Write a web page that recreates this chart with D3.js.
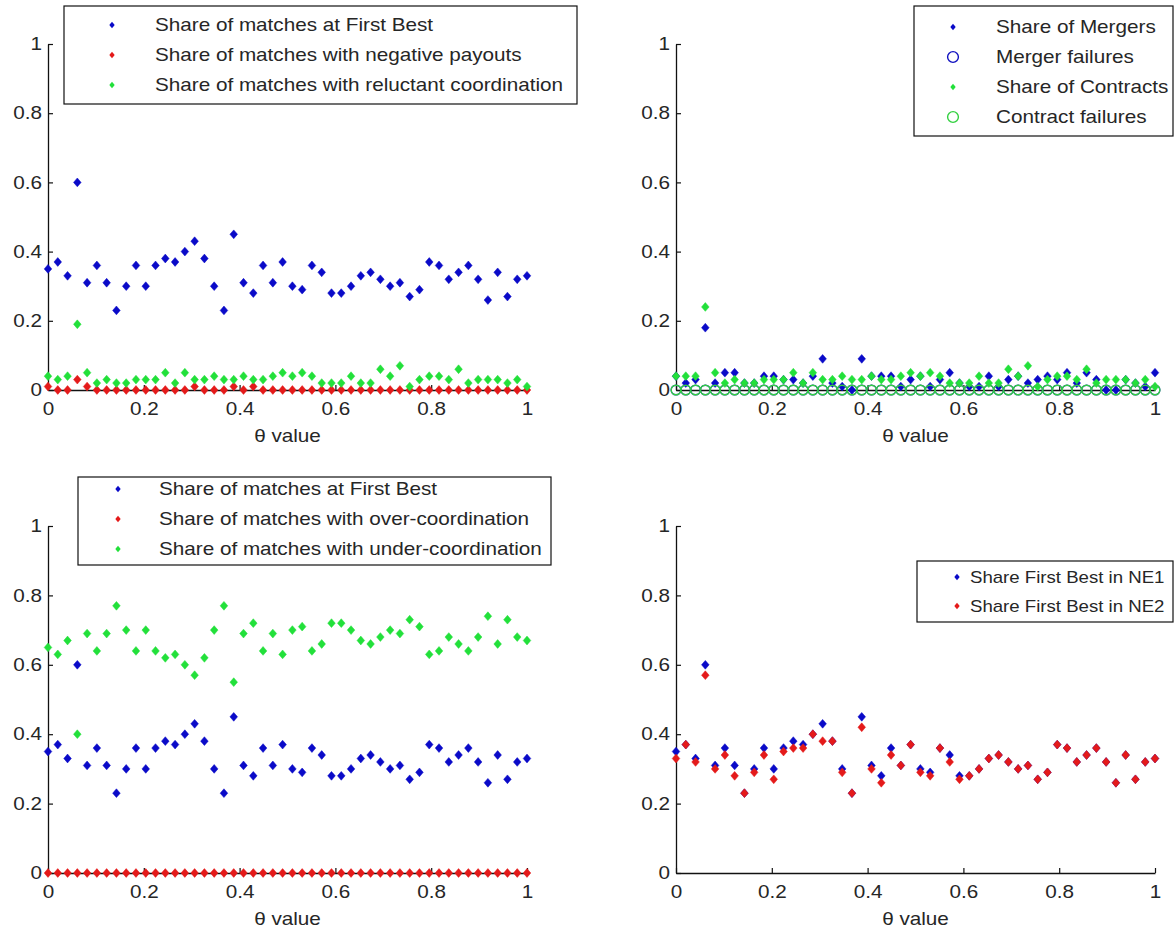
<!DOCTYPE html>
<html><head><meta charset="utf-8">
<script src="https://cdn.jsdelivr.net/npm/d3@7"></script>
<style>
body{margin:0;background:#fff}
text{font-family:"Liberation Sans",Arial,Helvetica,sans-serif;fill:#262626}
</style>
</head><body>
<svg id="chart" width="1175" height="934"></svg>
<script>
// ---------- data ----------
const theta = d3.range(50).map(i => i / 49);            // θ grid, 50 steps from 0 to 1
const xTicks = [0, 0.2, 0.4, 0.6, 0.8, 1];
const xTickLabels = ["0", "0.2", "0.4", "0.6", "0.8", "1"];
const yTicks = [0, 0.2, 0.4, 0.6, 0.8, 1];
const yTickLabels = ["0", "0.2", "0.4", "0.6", "0.8", "1"];
const xLabel = "θ value";

const firstBest = [0.35,0.37,0.33,0.60,0.31,0.36,0.31,0.23,0.30,0.36,0.30,0.36,0.38,0.37,0.40,0.43,0.38,0.30,0.23,0.45,0.31,0.28,0.36,0.31,0.37,
                   0.30,0.29,0.36,0.34,0.28,0.28,0.30,0.33,0.34,0.32,0.30,0.31,0.27,0.29,0.37,0.36,0.32,0.34,0.36,0.32,0.26,0.34,0.27,0.32,0.33];
const negativePayouts = [0.01,0,0,0.03,0.01,0,0,0,0,0,0,0,0,0,0,0.01,0,0,0,0.01,0,0.01,0,0,0,
                         0,0,0,0,0,0,0,0,0,0,0,0,0,0,0,0,0,0,0,0,0,0,0,0,0];
const reluctantCoord = [0.04,0.03,0.04,0.19,0.05,0.02,0.03,0.02,0.02,0.03,0.03,0.03,0.05,0.02,0.05,0.03,0.03,0.04,0.03,0.03,0.04,0.03,0.03,0.04,0.05,
                        0.04,0.05,0.04,0.02,0.02,0.02,0.04,0.02,0.02,0.06,0.04,0.07,0.01,0.03,0.04,0.04,0.03,0.06,0.02,0.03,0.03,0.03,0.02,0.03,0.01];

const mergers = [0.04,0.02,0.03,0.18,0.02,0.05,0.05,0.02,0.02,0.04,0.04,0.03,0.03,0.02,0.04,0.09,0.02,0.01,0,0.09,0.04,0.04,0.04,0.01,0.03,
                 0.04,0.01,0.03,0.05,0.02,0.01,0.01,0.04,0.01,0.03,0.04,0.02,0.03,0.04,0.03,0.05,0.02,0.05,0.03,0,0,0.03,0.02,0.01,0.05];
const mergerFailures = [0,0,0,0,0,0,0,0,0,0,0,0,0,0,0,0,0,0,0,0,0,0,0,0,0,
                        0,0,0,0,0,0,0,0,0,0,0,0,0,0,0,0,0,0,0,0,0,0,0,0,0];
const contracts = [0.04,0.04,0.04,0.24,0.05,0.02,0.03,0.02,0.02,0.03,0.03,0.03,0.05,0.02,0.05,0.03,0.03,0.04,0.03,0.03,0.04,0.03,0.03,0.04,0.05,
                   0.04,0.05,0.04,0.02,0.02,0.02,0.04,0.02,0.02,0.06,0.04,0.07,0.01,0.03,0.04,0.04,0.03,0.06,0.02,0.03,0.03,0.03,0.02,0.03,0.01];
const contractFailures = [0,0,0,0,0,0,0,0,0,0,0,0,0,0,0,0,0,0,0,0,0,0,0,0,0,
                          0,0,0,0,0,0,0,0,0,0,0,0,0,0,0,0,0,0,0,0,0,0,0,0,0];

const overCoord = [0,0,0,0,0,0,0,0,0,0,0,0,0,0,0,0,0,0,0,0,0,0,0,0,0,
                   0,0,0,0,0,0,0,0,0,0,0,0,0,0,0,0,0,0,0,0,0,0,0,0,0];
const underCoord = [0.65,0.63,0.67,0.40,0.69,0.64,0.69,0.77,0.70,0.64,0.70,0.64,0.62,0.63,0.60,0.57,0.62,0.70,0.77,0.55,0.69,0.72,0.64,0.69,0.63,
                    0.70,0.71,0.64,0.66,0.72,0.72,0.70,0.67,0.66,0.68,0.70,0.69,0.73,0.71,0.63,0.64,0.68,0.66,0.64,0.68,0.74,0.66,0.73,0.68,0.67];

const ne1 = [0.35,0.37,0.33,0.60,0.31,0.36,0.31,0.23,0.30,0.36,0.30,0.36,0.38,0.37,0.40,0.43,0.38,0.30,0.23,0.45,0.31,0.28,0.36,0.31,0.37,
             0.30,0.29,0.36,0.34,0.28,0.28,0.30,0.33,0.34,0.32,0.30,0.31,0.27,0.29,0.37,0.36,0.32,0.34,0.36,0.32,0.26,0.34,0.27,0.32,0.33];
const ne2 = [0.33,0.37,0.32,0.57,0.30,0.34,0.28,0.23,0.29,0.34,0.27,0.35,0.36,0.36,0.40,0.38,0.38,0.29,0.23,0.42,0.30,0.26,0.34,0.31,0.37,
             0.29,0.28,0.36,0.32,0.27,0.28,0.30,0.33,0.34,0.32,0.30,0.31,0.27,0.29,0.37,0.36,0.32,0.34,0.36,0.32,0.26,0.34,0.27,0.32,0.33];

// ---------- style ----------
const BLUE = "#0a0ac8", RED = "#e41a1a", GREEN = "#22e03a", GREEN_O = "#33d040", BLUE_O = "#1010c0";
const FS = 18, SX = 1.15;   // font size and horizontal stretch of all text

const panels = [
  { left: 48, right: 527, top: 44, bottom: 390,
    series: [
      { name: "Share of matches at First Best", values: firstBest, color: BLUE, sym: "d" },
      { name: "Share of matches with negative payouts", values: negativePayouts, color: RED, sym: "d" },
      { name: "Share of matches with reluctant coordination", values: reluctantCoord, color: GREEN, sym: "d" }],
    legend: { x: 64, y: 6, w: 513, h: 98, mx: 112, tx: 155, row0: 25, dy: 30, fs: FS } },
  { left: 676, right: 1155, top: 44, bottom: 390,
    series: [
      { name: "Share of Mergers", values: mergers, color: BLUE, sym: "d" },
      { name: "Merger failures", values: mergerFailures, color: BLUE_O, sym: "o" },
      { name: "Share of Contracts", values: contracts, color: GREEN, sym: "d" },
      { name: "Contract failures", values: contractFailures, color: GREEN_O, sym: "o" }],
    legend: { x: 914, y: 6, w: 259, h: 130, mx: 953, tx: 996, row0: 27, dy: 30, fs: FS } },
  { left: 48, right: 527, top: 526, bottom: 873,
    series: [
      { name: "Share of matches at First Best", values: firstBest, color: BLUE, sym: "d" },
      { name: "Share of matches with over-coordination", values: overCoord, color: RED, sym: "d" },
      { name: "Share of matches with under-coordination", values: underCoord, color: GREEN, sym: "d" }],
    legend: { x: 78, y: 477, w: 473, h: 88, mx: 118, tx: 159, row0: 489, dy: 30, fs: FS } },
  { left: 676, right: 1155, top: 526, bottom: 873,
    series: [
      { name: "Share First Best in NE1", values: ne1, color: BLUE, sym: "d" },
      { name: "Share First Best in NE2", values: ne2, color: RED, sym: "d" }],
    legend: { x: 917, y: 561, w: 256, h: 61, mx: 957, tx: 970, row0: 577, dy: 29, fs: 16.2 } }
];

const svg = d3.select("#chart");
const diamond = (hw, hh) => `M0,${-hh}L${hw},0L0,${hh}L${-hw},0Z`;
function stretch(sel) {
  sel.each(function () {
    const t = d3.select(this);
    const x = +t.attr("x") || 0;
    t.attr("x", x / SX).attr("transform", `scale(${SX},1)`);
  });
}

panels.forEach(p => {
  const x = d3.scaleLinear().domain([0, 1]).range([p.left, p.right]);
  const y = d3.scaleLinear().domain([0, 1]).range([p.bottom, p.top]);
  const g = svg.append("g");

  // axes
  const xa = g.append("g").attr("transform", `translate(0,${p.bottom})`)
    .call(d3.axisBottom(x).tickValues(xTicks).tickFormat((d, i) => xTickLabels[i])
      .tickSizeInner(-5).tickSizeOuter(0).tickPadding(12));
  const ya = g.append("g").attr("transform", `translate(${p.left},0)`)
    .call(d3.axisLeft(y).tickValues(yTicks).tickFormat((d, i) => yTickLabels[i])
      .tickSizeInner(-5).tickSizeOuter(0).tickPadding(6));
  [xa, ya].forEach(a => {
    a.select(".domain").attr("stroke", "#111").attr("stroke-width", 1.3);
    a.selectAll(".tick line").attr("stroke", "#111").attr("stroke-width", 1.2);
    a.selectAll(".tick text").attr("font-size", FS).attr("fill", "#262626")
      .style("font-family", '"Liberation Sans",Arial,sans-serif').call(stretch);
  });

  g.append("text").attr("x", (p.left + p.right) / 2).attr("y", p.bottom + 52)
    .attr("text-anchor", "middle").attr("font-size", FS).text(xLabel).call(stretch);

  // marks
  p.series.forEach(s => {
    const pts = g.append("g").selectAll("path").data(s.values).join("path")
      .attr("transform", (d, i) => `translate(${x(theta[i])},${y(d)})`);
    if (s.sym === "d") {
      pts.attr("d", diamond(3.8, 4.4)).attr("fill", s.color).attr("stroke", s.color).attr("stroke-width", 0.5);
    } else {
      pts.attr("d", d3.symbol(d3.symbolCircle, Math.PI * 4.8 * 4.8)()).attr("fill", "none")
        .attr("stroke", s.color).attr("stroke-width", 1.4);
    }
  });

  // legend
  const L = p.legend;
  const lg = g.append("g");
  lg.append("rect").attr("x", L.x).attr("y", L.y).attr("width", L.w).attr("height", L.h)
    .attr("fill", "#fff").attr("stroke", "#111").attr("stroke-width", 1.2);
  p.series.forEach((s, i) => {
    const cy = L.row0 + i * L.dy;
    const m = lg.append("path").attr("transform", `translate(${L.mx},${cy})`);
    if (s.sym === "d") m.attr("d", diamond(2.7, 3.3)).attr("fill", s.color);
    else m.attr("d", d3.symbol(d3.symbolCircle, Math.PI * 5.4 * 5.4)()).attr("fill", "none")
      .attr("stroke", s.color).attr("stroke-width", 1.4);
    lg.append("text").attr("x", L.tx).attr("y", cy).attr("dy", "0.36em")
      .attr("font-size", L.fs).text(s.name).call(stretch);
  });
});
</script>
</body></html>
